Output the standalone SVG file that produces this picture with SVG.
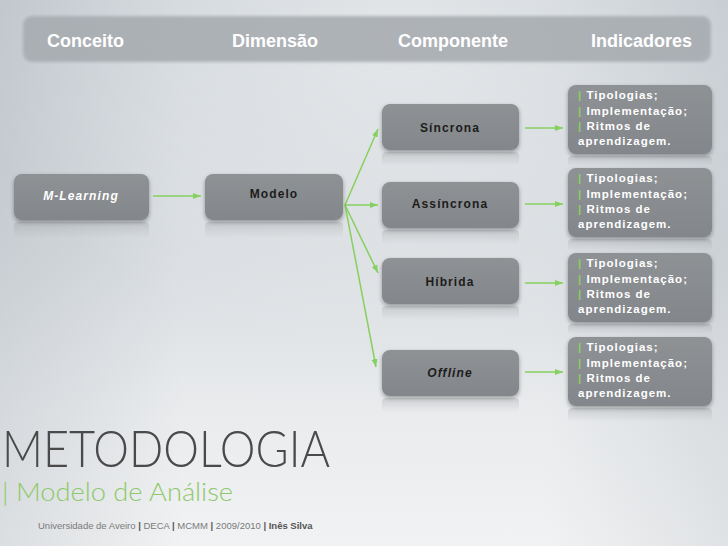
<svg xmlns="http://www.w3.org/2000/svg" width="728" height="546" viewBox="0 0 728 546">
  <defs>
    <linearGradient id="bg" x1="0" y1="0" x2="0" y2="1">
      <stop offset="0" stop-color="#cbd1d6"/>
      <stop offset="0.45" stop-color="#d8dce0"/>
      <stop offset="0.75" stop-color="#e9ebed"/>
      <stop offset="1" stop-color="#f1f2f3"/>
    </linearGradient>
    <radialGradient id="hl" cx="0.55" cy="0.05" r="0.6">
      <stop offset="0" stop-color="#ffffff" stop-opacity="0.45"/>
      <stop offset="1" stop-color="#ffffff" stop-opacity="0"/>
    </radialGradient>
    <linearGradient id="side" x1="0" y1="0" x2="1" y2="0">
      <stop offset="0" stop-color="#9aa3ab" stop-opacity="0.25"/>
      <stop offset="0.25" stop-color="#9aa3ab" stop-opacity="0"/>
      <stop offset="0.75" stop-color="#9aa3ab" stop-opacity="0"/>
      <stop offset="1" stop-color="#9aa3ab" stop-opacity="0.2"/>
    </linearGradient>
    <linearGradient id="box" x1="0" y1="0" x2="0" y2="1">
      <stop offset="0" stop-color="#8f9295"/>
      <stop offset="1" stop-color="#83868a"/>
    </linearGradient>
    <linearGradient id="refl" x1="0" y1="0" x2="0" y2="1">
      <stop offset="0" stop-color="#8a8d90" stop-opacity="0.28"/>
      <stop offset="1" stop-color="#8a8d90" stop-opacity="0"/>
    </linearGradient>
    <filter id="sh" x="-10%" y="-20%" width="120%" height="150%">
      <feDropShadow dx="0" dy="2" stdDeviation="2" flood-color="#000" flood-opacity="0.35"/>
    </filter>
    <filter id="soft" x="-5%" y="-30%" width="110%" height="160%">
      <feGaussianBlur stdDeviation="1.4"/>
    </filter>
    <marker id="ah" markerUnits="userSpaceOnUse" markerWidth="9" markerHeight="7" refX="8" refY="3.5" orient="auto">
      <path d="M0,0.5 L8,3.5 L0,6.5 z" fill="#86d05f"/>
    </marker>
  </defs>
  <style>
    .node rect.b { fill: url(#box); filter: url(#sh); }
    .node rect.r { fill: url(#refl); }
    .hdr { font-family: "Liberation Sans", Arial, sans-serif; font-weight: bold; font-size: 18px; fill: #ffffff; }
    .nt { font-family: "Liberation Sans", Arial, sans-serif; font-weight: bold; font-size: 12px; letter-spacing: 1.1px; fill: #1c1c1c; text-anchor: middle; }
    .it { font-family: "Liberation Sans", Arial, sans-serif; font-weight: bold; font-size: 11.5px; letter-spacing: 1px; fill: #ffffff; }
    .g { fill: #8ccf64; }
    .conn line { stroke: #86d05f; stroke-width: 1.5; fill: none; marker-end: url(#ah); }
  </style>

  <rect width="728" height="546" fill="url(#bg)"/>
  <rect width="728" height="546" fill="url(#side)"/>
  <rect width="728" height="546" fill="url(#hl)"/>

  <g id="header">
    <rect x="23" y="16" width="688" height="46" rx="9" fill="#a5aaaf" opacity="0.85" filter="url(#soft)"/>
    <text class="hdr" x="47" y="47">Conceito</text>
    <text class="hdr" x="232" y="47">Dimensão</text>
    <text class="hdr" x="398" y="47">Componente</text>
    <text class="hdr" x="591" y="47">Indicadores</text>
  </g>

  <g id="connectors" class="conn">
    <line x1="153" y1="196" x2="201" y2="196"/>
    <line x1="345" y1="205" x2="378" y2="129"/>
    <line x1="345" y1="205" x2="378" y2="205"/>
    <line x1="345" y1="205" x2="378" y2="273"/>
    <line x1="345" y1="205" x2="376" y2="367"/>
    <line x1="525" y1="128" x2="563" y2="128"/>
    <line x1="525" y1="204" x2="563" y2="204"/>
    <line x1="525" y1="283" x2="563" y2="283"/>
    <line x1="525" y1="372" x2="563" y2="372"/>
  </g>

  <g id="m-learning" class="node">
    <rect class="r" x="14" y="222" width="135" height="16" rx="4"/>
    <rect class="b" x="14" y="174" width="135" height="46" rx="8"/>
    <text class="nt" x="81" y="200" style="fill:#ffffff;font-style:italic">M-Learning</text>
  </g>

  <g id="modelo" class="node">
    <rect class="r" x="205" y="222" width="138" height="16" rx="4"/>
    <rect class="b" x="205" y="174" width="138" height="46" rx="8"/>
    <text class="nt" x="274" y="198">Modelo</text>
  </g>

  <g id="sincrona" class="node">
    <rect class="r" x="382" y="152" width="137" height="14" rx="4"/>
    <rect class="b" x="382" y="104" width="137" height="46" rx="8"/>
    <text class="nt" x="450" y="132">Síncrona</text>
  </g>

  <g id="assincrona" class="node">
    <rect class="r" x="382" y="230" width="137" height="14" rx="4"/>
    <rect class="b" x="382" y="182" width="137" height="46" rx="8"/>
    <text class="nt" x="450" y="208">Assíncrona</text>
  </g>

  <g id="hibrida" class="node">
    <rect class="r" x="382" y="306" width="137" height="14" rx="4"/>
    <rect class="b" x="382" y="258" width="137" height="46" rx="8"/>
    <text class="nt" x="450" y="286">Híbrida</text>
  </g>

  <g id="offline" class="node">
    <rect class="r" x="382" y="398" width="137" height="14" rx="4"/>
    <rect class="b" x="382" y="350" width="137" height="46" rx="8"/>
    <text class="nt" x="450" y="377" style="font-style:italic">Offline</text>
  </g>

  <g id="ind-1" class="node">
    <rect class="r" x="568" y="156" width="144" height="10" rx="4"/>
    <rect class="b" x="568" y="85" width="144" height="69" rx="8"/>
    <text class="it" x="578" y="99"><tspan class="g">|</tspan> Tipologias;</text>
    <text class="it" x="578" y="114.5"><tspan class="g">|</tspan> Implementação;</text>
    <text class="it" x="578" y="130"><tspan class="g">|</tspan> Ritmos de</text>
    <text class="it" x="578" y="145">aprendizagem.</text>
  </g>

  <g id="ind-2" class="node">
    <rect class="r" x="568" y="239" width="144" height="12" rx="4"/>
    <rect class="b" x="568" y="168" width="144" height="69" rx="8"/>
    <text class="it" x="578" y="182"><tspan class="g">|</tspan> Tipologias;</text>
    <text class="it" x="578" y="197.5"><tspan class="g">|</tspan> Implementação;</text>
    <text class="it" x="578" y="213"><tspan class="g">|</tspan> Ritmos de</text>
    <text class="it" x="578" y="228">aprendizagem.</text>
  </g>

  <g id="ind-3" class="node">
    <rect class="r" x="568" y="324" width="144" height="11" rx="4"/>
    <rect class="b" x="568" y="253" width="144" height="69" rx="8"/>
    <text class="it" x="578" y="267"><tspan class="g">|</tspan> Tipologias;</text>
    <text class="it" x="578" y="282.5"><tspan class="g">|</tspan> Implementação;</text>
    <text class="it" x="578" y="298"><tspan class="g">|</tspan> Ritmos de</text>
    <text class="it" x="578" y="313">aprendizagem.</text>
  </g>

  <g id="ind-4" class="node">
    <rect class="r" x="568" y="408" width="144" height="14" rx="4"/>
    <rect class="b" x="568" y="337" width="144" height="69" rx="8"/>
    <text class="it" x="578" y="351"><tspan class="g">|</tspan> Tipologias;</text>
    <text class="it" x="578" y="366.5"><tspan class="g">|</tspan> Implementação;</text>
    <text class="it" x="578" y="382"><tspan class="g">|</tspan> Ritmos de</text>
    <text class="it" x="578" y="397">aprendizagem.</text>
  </g>

  <g id="title">
    <text x="2" y="467" textLength="328" lengthAdjust="spacingAndGlyphs" font-family="Lato, 'Open Sans', sans-serif" font-weight="300" font-size="52" fill="#4a4a4a">METODOLOGIA</text>
    <text x="2" y="501" textLength="231" lengthAdjust="spacingAndGlyphs" font-family="Lato, 'Open Sans', sans-serif" font-weight="300" font-size="26" fill="#8cc96a">| Modelo de Análise</text>
    <text x="38" y="529" font-family="'Liberation Sans', Arial, sans-serif" font-size="9.5" fill="#7a7a7a">Universidade de Aveiro <tspan font-weight="bold" fill="#555">|</tspan> DECA <tspan font-weight="bold" fill="#555">|</tspan> MCMM <tspan font-weight="bold" fill="#555">|</tspan> 2009/2010 <tspan font-weight="bold" fill="#555">| Inês Silva</tspan></text>
  </g>
</svg>
